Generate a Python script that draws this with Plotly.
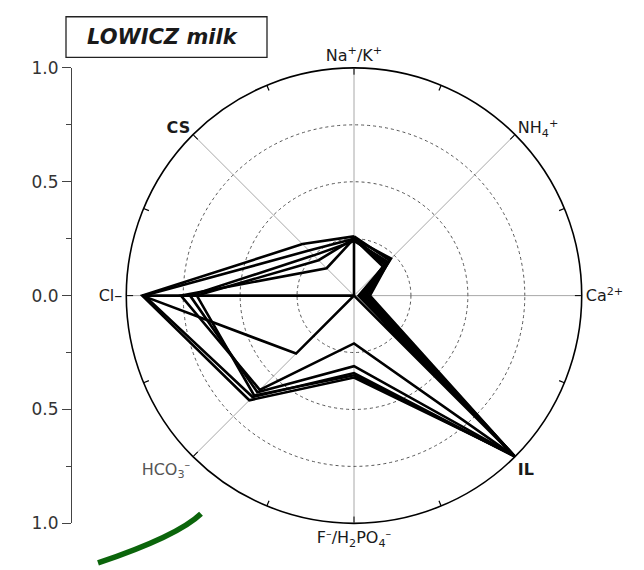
import plotly.graph_objects as go

# Axis categories, clockwise from the top (degrees on the angular axis)
axis_labels = [
    "Na<sup>+</sup>/K<sup>+</sup>",
    "NH<sub>4</sub><sup>+</sup>",
    "Ca<sup>2+</sup>",
    "<b>IL</b>",
    "F<sup>–</sup>/H<sub>2</sub>PO<sub>4</sub><sup>–</sup>",
    "<span style='color:#555'>HCO<sub>3</sub><sup>–</sup></span>",
    "Cl–",
    "<b>CS</b>",
]
axis_angles = [0, 45, 90, 135, 180, 225, 270, 315]

# Normalised responses of each milk sample on the eight axes
sample_1 = [0.25, 0.20, 0.02, 1.00, 0.00, 0.36, 0.93, 0.00]
sample_2 = [0.25, 0.23, 0.06, 1.00, 0.21, 0.585, 0.76, 0.17]
sample_3 = [0.24, 0.21, 0.05, 0.99, 0.31, 0.60, 0.72, 0.25]
sample_4 = [0.25, 0.19, 0.04, 1.00, 0.35, 0.62, 0.69, 0.22]
sample_5 = [0.26, 0.22, 0.07, 0.99, 0.36, 0.65, 0.93, 0.32]
sample_6 = [0.25, 0.18, 0.03, 1.00, 0.34, 0.63, 0.92, 0.28]
samples = [sample_1, sample_2, sample_3, sample_4, sample_5, sample_6]

# Left radial scale
scale_vals = [1.0, 0.5, 0.0, -0.5, -1.0]
scale_text = ["1.0", "0.5", "0.0", "0.5", "1.0"]

W, H = 644, 570
# circle box in pixels
cx0, cx1 = 118, 590
cy0, cy1 = 60, 532
dom_x = [cx0 / W, cx1 / W]
dom_y = [1 - cy1 / H, 1 - cy0 / H]

FONT = "DejaVu Sans, Liberation Sans, Arial, sans-serif"

fig = go.Figure()

for s in samples:
    fig.add_trace(go.Scatterpolar(
        r=s + [s[0]],
        theta=axis_angles + [axis_angles[0]],
        mode="lines",
        line=dict(color="black", width=2.6),
        hoverinfo="skip",
        showlegend=False,
    ))

# small minor ticks on the rim, halfway between the axes
mr, mt = [], []
for a in axis_angles:
    mr += [0.975, 1.0, None]
    mt += [a + 22.5, a + 22.5, None]
fig.add_trace(go.Scatterpolar(
    r=mr, theta=mt, mode="lines",
    line=dict(color="black", width=1.2),
    hoverinfo="skip", showlegend=False,
))

# carrier trace so the left scale is drawn
fig.add_trace(go.Scatter(x=[None], y=[None], xaxis="x", yaxis="y",
                         showlegend=False, hoverinfo="skip"))

fig.update_layout(
    width=W, height=H,
    margin=dict(l=0, r=0, t=0, b=0),
    paper_bgcolor="white",
    plot_bgcolor="rgba(0,0,0,0)",
    font=dict(family=FONT, color="#1a1a1a"),
    polar=dict(
        domain=dict(x=dom_x, y=dom_y),
        bgcolor="white",
        radialaxis=dict(
            range=[0, 1],
            tickvals=[0.25, 0.5, 0.75],
            showticklabels=False,
            ticks="",
            showline=False,
            gridcolor="#555",
            gridwidth=1.2,
            griddash="dot",
        ),
        angularaxis=dict(
            thetaunit="degrees",
            rotation=90,
            direction="clockwise",
            tickvals=axis_angles,
            ticktext=axis_labels,
            tickfont=dict(size=16, color="#1a1a1a", family=FONT),
            ticks="inside",
            ticklen=6,
            tickcolor="black",
            showline=True,
            linecolor="black",
            linewidth=1.6,
            gridcolor="#a8a8a8",
            gridwidth=1.4,
        ),
    ),
    xaxis=dict(domain=[0.11, 0.12], visible=False, range=[0, 1]),
    yaxis=dict(
        domain=dom_y,
        range=[-1, 1],
        anchor="free",
        position=71 / W,
        side="left",
        showline=True,
        linecolor="#444",
        linewidth=1.2,
        tickvals=scale_vals,
        ticktext=scale_text,
        ticks="outside",
        ticklen=9,
        tickcolor="#444",
        tickwidth=1.2,
        minor=dict(ticks="outside", ticklen=5, dtick=0.25, tickcolor="#444", tickwidth=1.2),
        showgrid=False,
        zeroline=False,
        tickfont=dict(size=17, color="#333", family=FONT),
    ),
)

# title box
fig.add_shape(type="rect", xref="paper", yref="paper",
              x0=66 / W, x1=267 / W, y0=1 - 49 / H, y1=1 - 7 / H,
              line=dict(color="#222", width=1.3), fillcolor="white")
fig.add_annotation(xref="paper", yref="paper", x=163 / W, y=1 - 28 / H,
                   text="<b><i>LOWICZ milk</i></b>", showarrow=False,
                   font=dict(size=21, color="#1a1a1a", family=FONT),
                   xanchor="center", yanchor="middle")

# green stroke in the lower left corner
p0 = (201 / W, 1 - 522 / H)
pc = (178 / W, 1 - 545 / H)
p1 = (98 / W, 1 - 573 / H)
fig.add_shape(type="path", xref="paper", yref="paper",
              path=f"M {p0[0]},{p0[1]} Q {pc[0]},{pc[1]} {p1[0]},{p1[1]}",
              line=dict(color="#0b650b", width=5.5))

fig.write_html("out.html")
